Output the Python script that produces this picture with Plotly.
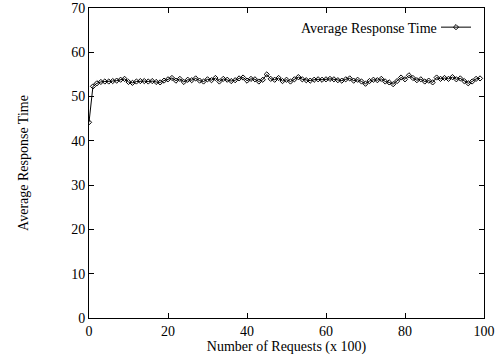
import plotly.graph_objects as go

requests_x100 = list(range(0, 100))
avg_response_time = [
    44.2, 52.3, 53.0, 53.3, 53.4, 53.4, 53.5, 53.6, 53.8, 54.0,
    53.3, 53.1, 53.4, 53.5, 53.5, 53.4, 53.5, 53.3, 53.2, 53.6,
    53.9, 54.2, 53.6, 54.0, 53.3, 53.8, 53.7, 54.1, 53.6, 53.4,
    53.9, 53.7, 54.2, 53.4, 54.0, 53.8, 53.5, 53.7, 54.1, 54.3,
    53.6, 54.0, 53.9, 53.4, 53.8, 55.0, 54.0, 53.8, 54.2, 53.5,
    53.8, 53.4, 53.9, 54.4, 53.9, 53.7, 53.6, 53.8, 53.9, 53.8,
    53.9, 54.0, 53.9, 53.7, 53.6, 53.9, 54.1, 53.6, 53.8, 53.4,
    52.9, 53.5, 53.8, 53.7, 54.0, 53.4, 53.2, 52.8, 53.5, 54.3,
    53.9, 54.8, 54.2, 53.7, 53.9, 53.4, 53.6, 53.2, 54.3, 54.0,
    54.2, 54.0, 54.4, 53.9, 54.1, 53.5, 53.0, 53.4, 54.0, 54.1,
]
series_name = "Average Response Time"
x_title = "Number of Requests (x 100)"
y_title = "Average Response Time"
x_ticks = [0, 20, 40, 60, 80, 100]
y_ticks = [0, 10, 20, 30, 40, 50, 60, 70]

font_family = "Liberation Serif, Times New Roman, serif"
fs = 14

fig = go.Figure()
fig.add_trace(go.Scatter(
    x=requests_x100, y=avg_response_time, mode="lines+markers",
    name=" ",
    line=dict(color="black", width=1),
    marker=dict(symbol="diamond-open", size=4, color="black", line=dict(width=1, color="black")),
))

axis_common = dict(
    showgrid=False, zeroline=False, showline=True, linecolor="black", linewidth=1,
    mirror="ticks", ticks="inside", ticklen=5, tickcolor="black", tickwidth=1,
    tickfont=dict(family=font_family, size=fs, color="black"), automargin=False,
)
fig.update_xaxes(range=[0, 100], tickvals=x_ticks, ticklabelstandoff=0,
                 title=dict(text=x_title, font=dict(family=font_family, size=fs, color="black"), standoff=0),
                 **axis_common)
fig.update_yaxes(range=[0, 70], tickvals=y_ticks,
                 title=dict(text=y_title, font=dict(family=font_family, size=fs, color="black"), standoff=39),
                 **axis_common)

fig.add_annotation(
    xref="paper", yref="paper", x=0.885, y=0.935, xanchor="right", yanchor="middle",
    text=series_name, showarrow=False,
    font=dict(family=font_family, size=fs, color="black"),
)

fig.update_layout(
    width=495, height=356,
    margin=dict(l=89, r=11, t=8, b=38),
    paper_bgcolor="white", plot_bgcolor="white",
    font=dict(family=font_family, size=fs, color="black"),
    showlegend=True,
    legend=dict(x=1.0, y=0.985, xanchor="right", yanchor="top",
                bgcolor="rgba(0,0,0,0)", font=dict(family=font_family, size=12),
                itemwidth=30, tracegroupgap=0),
)

fig.write_html("out.html", config={"displayModeBar": False},
               post_script="document.body.style.margin='0';")
